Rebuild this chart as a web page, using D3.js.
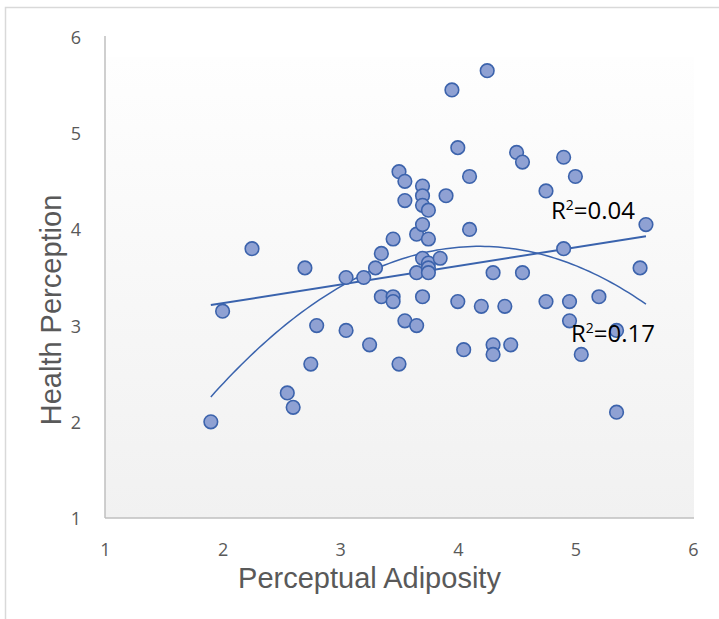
<!DOCTYPE html>
<html>
<head>
<meta charset="utf-8">
<script src="https://cdn.jsdelivr.net/npm/d3@7"></script>
<style>
  html, body { margin: 0; padding: 0; background: #fff; }
  svg { display: block; }
</style>
</head>
<body>
<svg id="chart" width="719" height="619"></svg>
<script>
// Perceptual Adiposity (x) values
const adiposity = [
  1.90, 2.00, 2.25, 2.55, 2.60, 2.70, 2.75, 2.80, 3.05, 3.05,
  3.20, 3.25, 3.30, 3.35, 3.35, 3.45, 3.45, 3.45, 3.50, 3.55,
  3.55, 3.55, 3.50, 3.65, 3.65, 3.65, 3.70, 3.70, 3.70, 3.70,
  3.70, 3.70, 3.75, 3.75, 3.75, 3.75, 3.75, 3.85, 3.90, 3.95,
  4.00, 4.00, 4.05, 4.10, 4.10, 4.20, 4.25, 4.30, 4.30, 4.30,
  4.40, 4.45, 4.50, 4.55, 4.55, 4.75, 4.75, 4.90, 4.90, 4.95,
  4.95, 5.00, 5.05, 5.20, 5.35, 5.35, 5.55, 5.60
];
// Health Perception (y) values
const health = [
  2.00, 3.15, 3.80, 2.30, 2.15, 3.60, 2.60, 3.00, 3.50, 2.95,
  3.50, 2.80, 3.60, 3.75, 3.30, 3.90, 3.30, 3.25, 4.60, 4.50,
  4.30, 3.05, 2.60, 3.95, 3.55, 3.00, 4.45, 4.35, 4.25, 4.05,
  3.70, 3.30, 4.20, 3.90, 3.65, 3.60, 3.55, 3.70, 4.35, 5.45,
  4.85, 3.25, 2.75, 4.55, 4.00, 3.20, 5.65, 3.55, 2.80, 2.70,
  3.20, 2.80, 4.80, 4.70, 3.55, 4.40, 3.25, 4.75, 3.80, 3.25,
  3.05, 4.55, 2.70, 3.30, 2.10, 2.95, 3.60, 4.05
];
const xTicks = [1, 2, 3, 4, 5, 6];
const yTicks = [1, 2, 3, 4, 5, 6];
const xTitle = "Perceptual Adiposity";
const yTitle = "Health Perception";
const r2Labels = ["0.04", "0.17"];

const points = adiposity.map((v, i) => ({ x: v, y: health[i] }));

const svg = d3.select("#chart");
const x = d3.scaleLinear().domain([1, 6]).range([105, 693]);
const y = d3.scaleLinear().domain([1, 6]).range([518, 37]);

// outer chart border
svg.append("rect")
  .attr("x", 5.5).attr("y", 7.5).attr("width", 760).attr("height", 660)
  .attr("fill", "#fff").attr("stroke", "#d9d9d9").attr("stroke-width", 1.5);

// plot area gradient
const defs = svg.append("defs");
const grad = defs.append("linearGradient").attr("id", "pa").attr("x1", 0).attr("y1", 0).attr("x2", 0).attr("y2", 1);
grad.append("stop").attr("offset", "0%").attr("stop-color", "#fefefe");
grad.append("stop").attr("offset", "100%").attr("stop-color", "#f1f1f1");
svg.append("rect")
  .attr("x", x(1)).attr("y", 57).attr("width", x(6) - x(1) + 1).attr("height", y(1) - 57)
  .attr("fill", "url(#pa)");

// axes
const xAxis = d3.axisBottom(x).tickValues(xTicks).tickSize(0).tickPadding(0).tickFormat(d3.format("d"));
const gx = svg.append("g").attr("transform", `translate(0,${y(1)})`).call(xAxis);
gx.select(".domain").attr("stroke", "#bfbfbf").attr("stroke-width", 1.5).attr("d", `M${x(1)},0H${x(6) + 1}`);
gx.selectAll(".tick text").attr("y", 38).attr("dy", null)
  .attr("font-family", "'Open Sans', 'Noto Sans', sans-serif").attr("font-size", 18).attr("fill", "#595959");

const yAxis = d3.axisLeft(y).tickValues(yTicks).tickSize(0).tickPadding(0).tickFormat(d3.format("d"));
const gy = svg.append("g").attr("transform", `translate(${x(1)},0)`).call(yAxis);
gy.select(".domain").attr("stroke", "#bfbfbf").attr("stroke-width", 1.5).attr("d", `M0,${y(6) - 1}V${y(1)}`);
gy.selectAll(".tick text").attr("x", -29).attr("dy", "0.36em").attr("text-anchor", "middle")
  .attr("font-family", "'Open Sans', 'Noto Sans', sans-serif").attr("font-size", 18).attr("fill", "#595959");

// axis titles
svg.append("text").attr("x", 369.5).attr("y", 588).attr("text-anchor", "middle")
  .attr("font-family", "'Liberation Sans', Arial, sans-serif").attr("font-size", 29).attr("fill", "#595959")
  .text(xTitle);
svg.append("text").attr("transform", "translate(61,310) rotate(-90)").attr("text-anchor", "middle")
  .attr("font-family", "'Liberation Sans', Arial, sans-serif").attr("font-size", 29).attr("fill", "#595959")
  .text(yTitle);

// least-squares fits
function solve3(A, b) {
  const M = A.map((row, i) => [...row, b[i]]);
  for (let c = 0; c < 3; c++) {
    let p = c;
    for (let r = c + 1; r < 3; r++) if (Math.abs(M[r][c]) > Math.abs(M[p][c])) p = r;
    [M[c], M[p]] = [M[p], M[c]];
    for (let r = 0; r < 3; r++) {
      if (r === c) continue;
      const f = M[r][c] / M[c][c];
      for (let k = c; k < 4; k++) M[r][k] -= f * M[c][k];
    }
  }
  return [M[0][3] / M[0][0], M[1][3] / M[1][1], M[2][3] / M[2][2]];
}
const n = points.length;
const S = k => d3.sum(points, p => Math.pow(p.x, k));
const T = k => d3.sum(points, p => Math.pow(p.x, k) * p.y);
const mx = S(1) / n, my = T(0) / n;
const slope = (T(1) - n * mx * my) / (S(2) - n * mx * mx);
const icpt = my - slope * mx;
const quad = solve3([[n, S(1), S(2)], [S(1), S(2), S(3)], [S(2), S(3), S(4)]], [T(0), T(1), T(2)]);

const [xmin, xmax] = d3.extent(adiposity);
const samples = d3.range(0, 101).map(i => xmin + (xmax - xmin) * i / 100);
const line = d3.line().x(d => x(d[0])).y(d => y(d[1]));

svg.append("path")
  .datum([[xmin, icpt + slope * xmin], [xmax, icpt + slope * xmax]])
  .attr("d", line).attr("fill", "none").attr("stroke", "#3a63ad").attr("stroke-width", 2);
svg.append("path")
  .datum(samples.map(v => [v, quad[0] + quad[1] * v + quad[2] * v * v]))
  .attr("d", line).attr("fill", "none").attr("stroke", "#3a63ad").attr("stroke-width", 1.5);

// points
svg.append("g").selectAll("circle").data(points).join("circle")
  .attr("cx", d => x(d.x)).attr("cy", d => y(d.y)).attr("r", 6.8)
  .attr("fill", "#8fa1d3").attr("stroke", "#3c63ac").attr("stroke-width", 1.6);

// R² labels
function r2(xp, yp, val) {
  const t = svg.append("text").attr("x", xp).attr("y", yp)
    .attr("font-family", "'Open Sans', 'Noto Sans', sans-serif").attr("font-size", 24).attr("fill", "#000");
  t.append("tspan").text("R");
  t.append("tspan").attr("font-size", 14).attr("dy", -9).text("2");
  t.append("tspan").attr("dy", 9).text("=" + val);
}
r2(551, 219, r2Labels[0]);
r2(571, 342, r2Labels[1]);
</script>
</body>
</html>
